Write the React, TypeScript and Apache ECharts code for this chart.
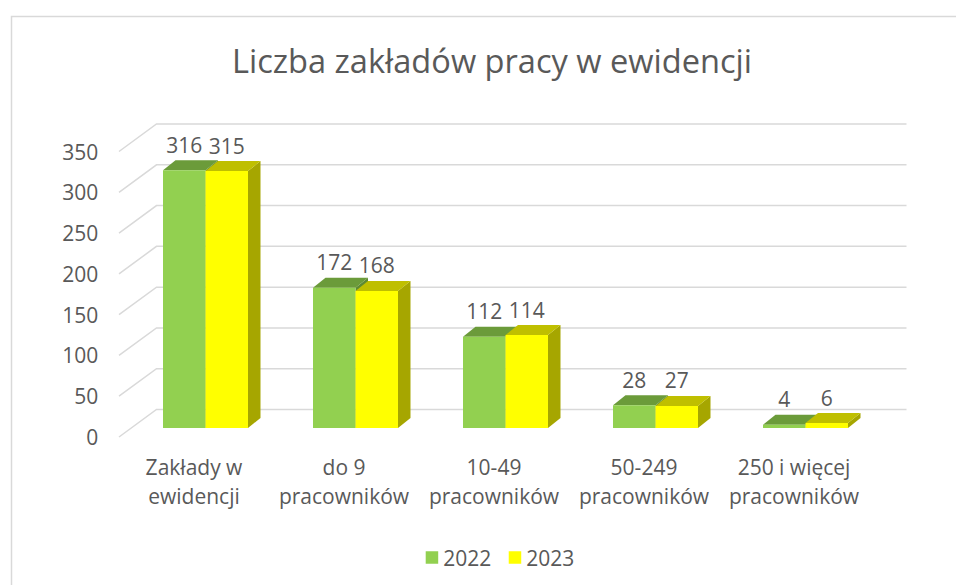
import React, { useEffect, useRef } from "react";
import * as echarts from "echarts";

const TITLE = "Liczba zakładów pracy w ewidencji";
const categories = [
  "Zakłady w\newidencji",
  "do 9\npracowników",
  "10-49\npracowników",
  "50-249\npracowników",
  "250 i więcej\npracowników",
];
const seriesNames = ["2022", "2023"];
const values2022 = [316, 172, 112, 28, 4];
const values2023 = [315, 168, 114, 27, 6];
const yTicks = [0, 50, 100, 150, 200, 250, 300, 350];

const FONT = "'Open Sans', sans-serif";
const TEXT = "#595959";
const GRID_LINE = "#D9D9D9";

// 3D projection offsets
const DEPTH_DX = 37.5;
const DEPTH_DY = -27.5;
const PLANE_DX = 11.5;
const PLANE_DY = -9;
const BAR_DX = 12.5;
const BAR_DY = -10;

const palettes = [
  { front: "#92D050", top: "#6B9B3A", side: "#5E8A33" },
  { front: "#FFFF00", top: "#BFBF00", side: "#A6A600" },
];

function makeBarRenderer(slot: number) {
  const pal = palettes[slot];
  return (params: any, api: any) => {
    const i = api.value(0);
    const v = api.value(1);
    const base = api.coord([i, 0]);
    const topP = api.coord([i, v]);
    const band = api.size([1, 0])[0];
    const bw = band * 0.2833;
    const cx = base[0] + PLANE_DX;
    const x0 = slot === 0 ? cx - bw : cx;
    const x1 = x0 + bw;
    const yb = base[1] + PLANE_DY;
    const yt = topP[1] + PLANE_DY;
    return {
      type: "group",
      children: [
        {
          type: "polygon",
          shape: {
            points: [
              [x1, yt],
              [x1 + BAR_DX, yt + BAR_DY],
              [x1 + BAR_DX, yb + BAR_DY],
              [x1, yb],
            ],
          },
          style: { fill: pal.side },
        },
        {
          type: "polygon",
          shape: {
            points: [
              [x0, yt],
              [x1, yt],
              [x1 + BAR_DX, yt + BAR_DY],
              [x0 + BAR_DX, yt + BAR_DY],
            ],
          },
          style: { fill: pal.top },
        },
        {
          type: "rect",
          shape: { x: x0, y: yt, width: bw, height: yb - yt },
          style: { fill: pal.front },
        },
        {
          type: "text",
          x: (x0 + x1) / 2,
          y: yt - 25.5,
          style: {
            text: String(v),
            align: "center",
            verticalAlign: "middle",
            fontFamily: FONT,
            fontSize: 21,
            fill: TEXT,
          },
        },
      ],
    };
  };
}

const gridRenderer = (params: any, api: any) => {
  const v = api.value(1);
  const y = api.coord([0, v])[1];
  const cs = params.coordSys;
  const x0 = cs.x;
  return {
    type: "polyline",
    shape: {
      points: [
        [x0, y],
        [x0 + DEPTH_DX, y + DEPTH_DY],
        [x0 + cs.width + DEPTH_DX, y + DEPTH_DY],
      ],
    },
    style: { stroke: GRID_LINE, lineWidth: 1.5, fill: "none" },
  };
};

export default function App() {
  const ref = useRef<HTMLDivElement>(null);
  useEffect(() => {
    if (!ref.current) return;
    const chart = echarts.init(ref.current, null, { renderer: "svg" });
    const option: any = {
      animation: false,
      backgroundColor: "#ffffff",
      textStyle: { fontFamily: FONT },
      graphic: [
        {
          type: "rect",
          silent: true,
          z: -10,
          shape: { x: 11.5, y: 16.5, width: 1000, height: 1000 },
          style: { fill: "none", stroke: GRID_LINE, lineWidth: 1.5 },
        },
        {
          type: "text",
          x: 492,
          y: 60.5,
          style: {
            text: TITLE,
            align: "center",
            verticalAlign: "middle",
            fontFamily: FONT,
            fontSize: 32.6,
            fill: TEXT,
          },
        },
      ],
      legend: {
        data: seriesNames,
        left: 420.7,
        top: 540,
        icon: "rect",
        itemWidth: 12.5,
        itemHeight: 12.5,
        itemGap: 17.5,
        textStyle: { fontFamily: FONT, fontSize: 21, color: TEXT, lineHeight: 25 },
      },
      grid: { left: 119, top: 151.5, width: 750, height: 285.5, containLabel: false },
      xAxis: {
        type: "category",
        data: categories,
        axisLine: { show: false },
        axisTick: { show: false },
        splitLine: { show: false },
        axisLabel: {
          interval: 0,
          margin: 15.5,
          fontFamily: FONT,
          fontSize: 21,
          lineHeight: 29,
          color: TEXT,
        },
      },
      yAxis: {
        type: "value",
        min: 0,
        max: 350,
        interval: 50,
        axisLine: { show: false },
        axisTick: { show: false },
        splitLine: { show: false },
        axisLabel: { margin: 20.7, fontFamily: FONT, fontSize: 21, color: TEXT },
      },
      series: [
        {
          type: "custom",
          name: "grid",
          silent: true,
          clip: false,
          z: 1,
          renderItem: gridRenderer,
          data: yTicks.map((v) => [0, v]),
          encode: { x: 0, y: 1 },
        },
        {
          type: "custom",
          name: seriesNames[0],
          clip: false,
          z: 2,
          itemStyle: { color: palettes[0].front },
          renderItem: makeBarRenderer(0),
          data: values2022.map((v, i) => [i, v]),
          encode: { x: 0, y: 1 },
        },
        {
          type: "custom",
          name: seriesNames[1],
          clip: false,
          z: 3,
          itemStyle: { color: palettes[1].front },
          renderItem: makeBarRenderer(1),
          data: values2023.map((v, i) => [i, v]),
          encode: { x: 0, y: 1 },
        },
      ],
    };
    chart.setOption(option);
    return () => chart.dispose();
  }, []);
  return (
    <div
      ref={ref}
      style={{ position: "fixed", left: 0, top: 0, width: 956, height: 585, background: "#fff" }}
    />
  );
}
